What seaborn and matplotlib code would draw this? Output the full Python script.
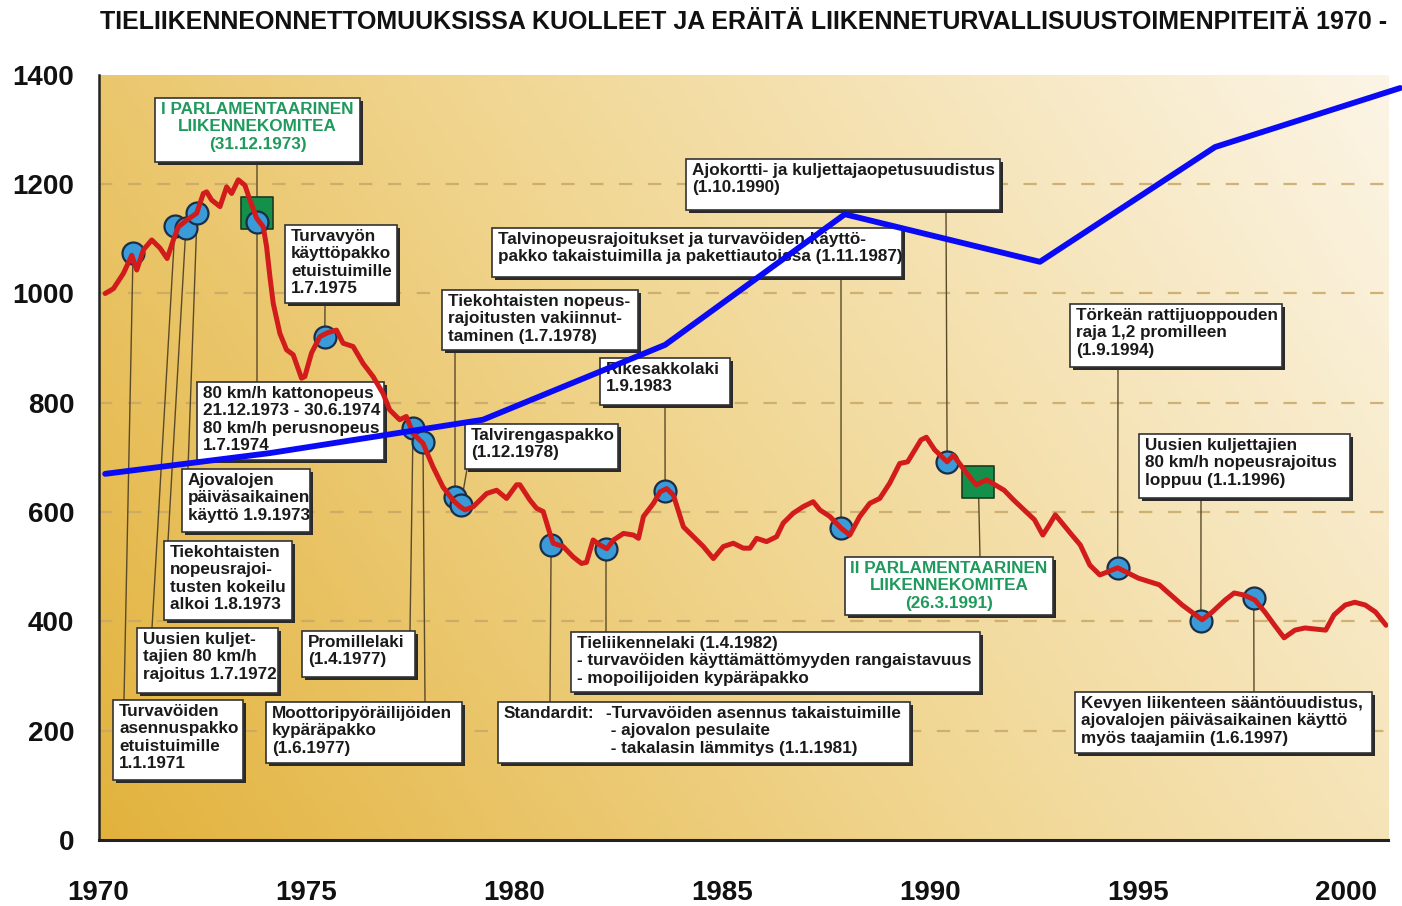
import matplotlib
matplotlib.use("Agg")
import numpy as np
import pandas as pd
import seaborn as sns
import matplotlib.pyplot as plt
from matplotlib.patches import Rectangle
from matplotlib import font_manager as fm

# ---------------- data ----------------
years = [1970.16, 1970.36, 1970.60, 1970.80, 1970.92, 1971.08, 1971.28, 1971.48, 1971.65, 1971.80,
         1971.92, 1972.12, 1972.36, 1972.52, 1972.60, 1972.72, 1972.92, 1973.08, 1973.20, 1973.36,
         1973.52, 1973.64, 1973.80, 1973.96, 1974.04, 1974.12, 1974.20, 1974.36, 1974.52, 1974.68,
         1974.88, 1974.96, 1975.12, 1975.32, 1975.50, 1975.72, 1975.88, 1976.12, 1976.36, 1976.60,
         1976.84, 1977.00, 1977.24, 1977.40, 1977.56, 1977.80, 1978.04, 1978.28, 1978.52, 1978.69,
         1978.81, 1979.01, 1979.33, 1979.57, 1979.81, 1980.05, 1980.13, 1980.37, 1980.53, 1980.69,
         1980.85, 1980.93, 1981.17, 1981.41, 1981.61, 1981.73, 1981.89, 1982.05, 1982.22, 1982.38,
         1982.62, 1982.86, 1982.98, 1983.10, 1983.34, 1983.50, 1983.66, 1983.82, 1984.06, 1984.30,
         1984.54, 1984.78, 1985.02, 1985.26, 1985.50, 1985.66, 1985.82, 1986.06, 1986.30, 1986.46,
         1986.70, 1986.94, 1987.18, 1987.34, 1987.58, 1987.86, 1988.06, 1988.30, 1988.54, 1988.78,
         1989.02, 1989.26, 1989.45, 1989.77, 1989.90, 1990.10, 1990.40, 1990.55, 1990.90, 1991.10,
         1991.35, 1991.77, 1992.00, 1992.50, 1992.70, 1992.85, 1993.00, 1993.40, 1993.60, 1993.83,
         1994.07, 1994.50, 1995.00, 1995.50, 1996.05, 1996.37, 1996.53, 1996.77, 1997.08, 1997.30,
         1997.55, 1997.80, 1998.04, 1998.27, 1998.50, 1998.76, 1999.00, 1999.50, 1999.70, 1999.97,
         2000.20, 2000.45, 2000.70, 2000.95]
deaths = [1000, 1009, 1037, 1070, 1043, 1080, 1098, 1083, 1064, 1098,
          1122, 1134, 1147, 1183, 1186, 1171, 1159, 1195, 1183, 1208,
          1198, 1171, 1138, 1122, 1086, 1031, 982, 927, 897, 888,
          845, 848, 891, 921, 928, 933, 909, 903, 872, 848,
          817, 787, 769, 775, 744, 726, 683, 646, 622, 610,
          604, 610, 634, 640, 625, 650, 650, 622, 607, 601,
          561, 543, 537, 518, 506, 508, 549, 540, 533, 549,
          561, 558, 552, 592, 616, 637, 643, 631, 573, 555,
          537, 515, 537, 543, 534, 534, 552, 546, 555, 580,
          598, 610, 619, 604, 592, 570, 558, 592, 616, 625,
          653, 689, 692, 732, 737, 714, 692, 704, 668, 650,
          659, 640, 622, 586, 558, 576, 595, 558, 540, 503,
          485, 498, 479, 467, 430, 412, 403, 417, 439, 452,
          448, 439, 417, 393, 370, 384, 388, 384, 412, 430,
          435, 430, 417, 393]

# measures (blue circles), as drawn
event_x = [1970.83, 1971.84, 1972.10, 1972.37, 1973.81, 1975.44, 1977.56, 1977.80, 1978.57,
           1978.71, 1980.88, 1982.20, 1983.62, 1987.85, 1990.40, 1994.50, 1996.50, 1997.77]
event_y = [1074, 1124, 1120, 1147, 1131, 920, 754, 728, 628,
           613, 540, 532, 639, 571, 692, 498, 401, 443]
# parliamentary committees (green squares)
committee_x = [1973.81, 1991.15]
committee_y = [1148, 655]

# blue overlay line
blue_years = [1970.16, 1974.12, 1979.24, 1983.62, 1987.94, 1992.63, 1996.84, 2001.29]
blue_values = [670, 708, 769, 906, 1145, 1058, 1268, 1376]

y_ticks = [0, 200, 400, 600, 800, 1000, 1200, 1400]
grid_levels = [200, 400, 600, 800, 1000, 1200]
x_label_years = [1970, 1975, 1980, 1985, 1990, 1995, 2000]

TITLE = "TIELIIKENNEONNETTOMUUKSISSA KUOLLEET JA ERÄITÄ LIIKENNETURVALLISUUSTOIMENPITEITÄ 1970 -"

box_texts = {
    "A": "I PARLAMENTAARINEN\nLIIKENNEKOMITEA\n(31.12.1973)",
    "B": "Turvavyön\nkäyttöpakko\netuistuimille\n1.7.1975",
    "C": "Tiekohtaisten nopeus-\nrajoitusten vakiinnut-\ntaminen (1.7.1978)",
    "D": "Talvinopeusrajoitukset ja turvavöiden käyttö-\npakko takaistuimilla ja pakettiautoissa (1.11.1987)",
    "E": "Ajokortti- ja kuljettajaopetusuudistus\n(1.10.1990)",
    "F": "Rikesakkolaki\n1.9.1983",
    "G": "Talvirengaspakko\n(1.12.1978)",
    "H": "80 km/h kattonopeus\n21.12.1973 - 30.6.1974\n80 km/h perusnopeus\n1.7.1974",
    "I": "Ajovalojen\npäiväsaikainen\nkäyttö 1.9.1973",
    "J": "Tiekohtaisten\nnopeusrajoi-\ntusten kokeilu\nalkoi 1.8.1973",
    "K": "Uusien kuljet-\ntajien 80 km/h\nrajoitus 1.7.1972",
    "L": "Turvavöiden\nasennuspakko\netuistuimille\n1.1.1971",
    "M": "Promillelaki\n(1.4.1977)",
    "N": "Moottoripyöräilijöiden\nkypäräpakko\n(1.6.1977)",
    "O": "Tieliikennelaki (1.4.1982)\n- turvavöiden käyttämättömyyden rangaistavuus\n- mopoilijoiden kypäräpakko",
    "P": ("Standardit:", "-Turvavöiden asennus takaistuimille\n - ajovalon pesulaite\n - takalasin lämmitys (1.1.1981)"),
    "Q": "II PARLAMENTAARINEN\nLIIKENNEKOMITEA\n(26.3.1991)",
    "R": "Törkeän rattijuoppouden\nraja 1,2 promilleen\n(1.9.1994)",
    "S": "Uusien kuljettajien\n80 km/h nopeusrajoitus\nloppuu (1.1.1996)",
    "T": "Kevyen liikenteen sääntöuudistus,\najovalojen päiväsaikainen käyttö\nmyös taajamiin (1.6.1997)",
}

# ---------------- layout (pixels of the 1402x906 canvas) ----------------
W, H = 1402, 906
AX_L, AX_R, AX_T, AX_B = 98.5, 1388.1, 74.9, 840.0
X0, X1, Y0, Y1 = 1970, 2001, 0, 1400

box_geom = {  # left, top, right, bottom
    "A": (155, 98, 360, 162), "B": (285, 225, 397, 303), "C": (442, 290, 638, 350),
    "D": (492, 228, 902, 277), "E": (686, 159, 1000, 210), "F": (600, 358, 730, 405),
    "G": (465, 424, 618, 469), "H": (197, 382, 384, 460), "I": (182, 469, 310, 532),
    "J": (164, 541, 292, 620), "K": (137, 628, 278, 693), "L": (113, 700, 243, 780),
    "M": (302, 631, 415, 677), "N": (266, 702, 462, 763), "O": (571, 632, 980, 692),
    "P": (498, 702, 910, 763), "Q": (845, 557, 1053, 615), "R": (1070, 304, 1282, 367),
    "S": (1139, 434, 1350, 498), "T": (1075, 692, 1372, 753),
}
# leader-line end points on boxes, one per event (pixels)
leader_ends = [(124, 700), (152, 628), (168, 541), (188, 469), (257, 382), (325, 303),
               (410, 631), (425, 702), (455, 350), (467, 469), (550, 702), (606, 632),
               (665, 405), (841, 277), (946, 210), (1118, 367), (1201, 498), (1254, 692)]
committee_leaders = [(257, 162), (980, 557)]


def px2x(px):
    return X0 + (px - AX_L) / (AX_R - AX_L) * (X1 - X0)


def py2y(py):
    return Y0 + (AX_B - py) / (AX_B - AX_T) * (Y1 - Y0)


def pick(fams):
    for f in fams:
        try:
            fm.findfont(fm.FontProperties(family=f), fallback_to_default=False)
            return f
        except Exception:
            pass
    return "DejaVu Sans"


sns.set_theme(style="white")
SANS = pick(["Liberation Sans", "Arimo", "Noto Sans", "DejaVu Sans"])
plt.rcParams["font.family"] = [SANS, "DejaVu Sans"]

fig = plt.figure(figsize=(W / 100, H / 100), dpi=100)
fig.patch.set_facecolor("white")
ax = fig.add_axes([AX_L / W, 1 - AX_B / H, (AX_R - AX_L) / W, (AX_B - AX_T) / H])
ax.set_xlim(X0, X1)
ax.set_ylim(Y0, Y1)

# gradient background
nx, ny = 300, 200
xx, yy = np.meshgrid(np.linspace(0, 1, nx), np.linspace(0, 1, ny))
t = np.clip(0.72 * xx + 0.28 * yy, 0, 1)
stops = np.array([0.0, 0.45, 1.0])
cols = np.array([[226, 178, 60], [240, 212, 140], [252, 245, 230]]) / 255.0
img = np.zeros((ny, nx, 3))
for c in range(3):
    img[..., c] = np.interp(t, stops, cols[:, c])
ax.imshow(img, extent=[X0, X1, Y0, Y1], origin="lower", aspect="auto", zorder=0)

for g in grid_levels:
    ax.axhline(g, color="#c8a868", lw=1.6, dashes=(6, 7), zorder=1, alpha=0.85)

# leader lines
for (ex, ey), (bx, by) in zip(zip(event_x, event_y), leader_ends):
    ax.plot([ex, px2x(bx)], [ey, py2y(by)], color="#5a4a28", lw=1.0, zorder=2)
for (cx, cy), (bx, by) in zip(zip(committee_x, committee_y), committee_leaders):
    ax.plot([cx, px2x(bx)], [cy, py2y(by)], color="#5a4a28", lw=1.0, zorder=2)

# boxes
BOX_FS = 12.3
LS = 1.2
for key, (l, tp, r, b) in box_geom.items():
    sh = Rectangle(((l + 3) / W, 1 - (b + 3) / H), (r - l) / W, (b - tp) / H,
                   transform=fig.transFigure, facecolor="#2a2a2a", edgecolor="none",
                   zorder=3, clip_on=False)
    ax.add_patch(sh)
    bx = Rectangle((l / W, 1 - b / H), (r - l) / W, (b - tp) / H, transform=fig.transFigure,
                   facecolor="white", edgecolor="#333333", lw=1.2, zorder=3.1, clip_on=False)
    ax.add_patch(bx)
    txt = box_texts[key]
    if key in ("A", "Q"):
        ax.text((l + r) / 2 / W, 1 - (tp + 4) / H, txt, transform=fig.transFigure,
                ha="center", va="top", multialignment="center", fontsize=BOX_FS,
                fontweight="bold", color="#1f9a5c", linespacing=LS, zorder=3.2)
    elif key == "P":
        ax.text((l + 6) / W, 1 - (tp + 4) / H, txt[0], transform=fig.transFigure,
                ha="left", va="top", fontsize=BOX_FS, fontweight="bold", color="#1a1a1a",
                linespacing=LS, zorder=3.2)
        ax.text((l + 108) / W, 1 - (tp + 4) / H, txt[1], transform=fig.transFigure,
                ha="left", va="top", fontsize=BOX_FS, fontweight="bold", color="#1a1a1a",
                linespacing=LS, zorder=3.2)
    else:
        ax.text((l + 6) / W, 1 - (tp + 4) / H, txt, transform=fig.transFigure,
                ha="left", va="top", fontsize=BOX_FS, fontweight="bold", color="#1a1a1a",
                linespacing=LS, zorder=3.2)

# committee squares
sns.scatterplot(x=committee_x, y=committee_y, ax=ax, marker="s", s=560, color="#15904a",
                edgecolor="#1d3a20", linewidth=1.2, zorder=3.5, legend=False)
# measures
sns.scatterplot(x=event_x, y=event_y, ax=ax, marker="o", s=250, color="#3a9bd8",
                edgecolor="#1a2e48", linewidth=1.6, zorder=4, legend=False)
# fatalities line (drawn across the markers, as in the original)
sns.lineplot(x=years, y=deaths, ax=ax, color="#d21c1c", lw=3.6, zorder=5,
             estimator=None, legend=False)
# blue overlay
sns.lineplot(x=blue_years, y=blue_values, ax=ax, color="#0a0af5", lw=4.2, zorder=6,
             estimator=None, legend=False, clip_on=False)

# axes styling
for s in ["top", "right"]:
    ax.spines[s].set_visible(False)
ax.spines["left"].set_color("#222222")
ax.spines["left"].set_linewidth(1.8)
ax.spines["bottom"].set_color("#222222")
ax.spines["bottom"].set_linewidth(2.2)
ax.spines["left"].set_zorder(7)
ax.spines["bottom"].set_zorder(7)
ax.set_yticks(y_ticks)
ax.set_yticklabels([str(v) for v in y_ticks])
ax.set_xticks(list(range(1970, 2002)))
ax.set_xticklabels([str(y) if y in x_label_years else "" for y in range(1970, 2002)])
ax.tick_params(axis="y", direction="inout", length=13, width=1.8, color="#222222",
               pad=11, labelsize=20)
ax.tick_params(axis="x", direction="inout", length=11, width=1.3, color="#222222",
               pad=23, labelsize=20)
for lab in ax.get_xticklabels() + ax.get_yticklabels():
    lab.set_fontweight("bold")
    lab.set_color("#111111")
ax.set_xlabel("")
ax.set_ylabel("")
ax.grid(False)

# title fitted to width
title = fig.text(100 / W, 1 - 22 / H, TITLE, ha="left", va="center", fontsize=16,
                 fontweight="bold", color="#111111")
fig.canvas.draw()
w = title.get_window_extent().width
title.set_fontsize(16 * 1295 / w)

fig.savefig("out.png", dpi=100)
